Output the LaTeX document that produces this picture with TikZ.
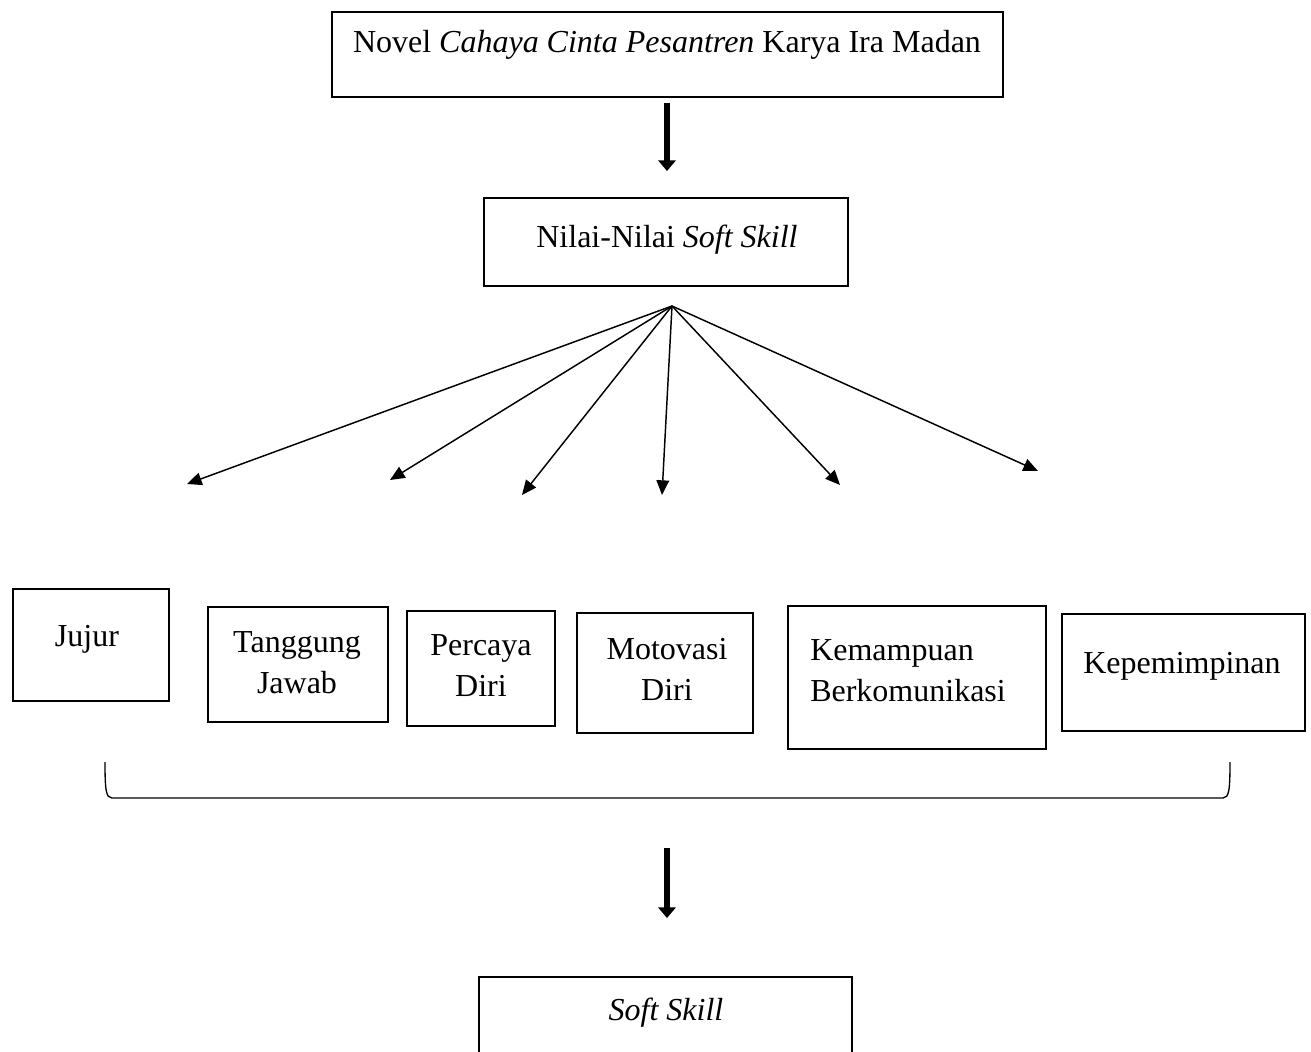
\documentclass[tikz,border=0pt]{standalone}
\usepackage{fontspec}
\setmainfont{Liberation Serif}
\usetikzlibrary{arrows.meta}
\begin{document}
\begin{tikzpicture}[x=0.75pt,y=-0.75pt,
  box/.style={draw, line width=2pt, rectangle, inner sep=0pt},
  lbl/.style={font=\fontsize{24}{30.75}\selectfont, align=center, inner sep=0pt},
  bigarrow/.style={line width=5pt, -{Triangle[length=8pt,width=13pt]}},
  fanarrow/.style={line width=1.1pt, -{Triangle[length=11pt,width=9.5pt]}},
  bracket/.style={line width=1pt}]
\useasboundingbox (0,0) rectangle (1311,1052);
% boxes
\node[box, minimum width=503.25pt, minimum height=63.75pt] (top) at (667.5,54.5) {};
\node[lbl] (toptext) at (667,45) {Novel \textit{Cahaya Cinta Pesantren} Karya Ira Madan};
\node[box, minimum width=273pt, minimum height=66pt] (nilai) at (666,242) {};
\node[lbl] (nilaitext) at (667,240) {Nilai-Nilai \textit{Soft Skill}};
\node[box, minimum width=117pt, minimum height=84pt] (jujur) at (91,645) {};
\node[lbl] (jujurtext) at (87,639) {Jujur};
\node[box, minimum width=135pt, minimum height=86.25pt] (tanggung) at (298,664.5) {};
\node[lbl] (tanggungtext) at (297,663) {Tanggung\\Jawab};
\node[box, minimum width=111pt, minimum height=86.25pt] (percaya) at (481,668.5) {};
\node[lbl] (percayatext) at (481,666) {Percaya\\Diri};
\node[box, minimum width=132pt, minimum height=90pt] (motovasi) at (665,673) {};
\node[lbl] (motovasitext) at (667,669) {Motovasi\\Diri};
\node[box, minimum width=193.5pt, minimum height=107.25pt] (kemampuan) at (917,677.5) {};
\node[lbl, align=left, anchor=west] (kemampuantext) at (810,671) {Kemampuan\\Berkomunikasi};
\node[box, minimum width=182.25pt, minimum height=87.75pt] (kepemimpinan) at (1183.5,672.5) {};
\node[lbl] (kepemimpinantext) at (1182,666) {Kepemimpinan};
\node[box, minimum width=279.75pt, minimum height=77.25pt] (soft) at (665.5,1028.5) {};
\node[lbl] (softtext) at (666,1013) {\textit{Soft Skill}};
% thick arrows
\coordinate (a1s) at (667,103);
\coordinate (a1e) at (667,171);
\draw[bigarrow] (a1s) -- (a1e);
\coordinate (a2s) at (667,848);
\coordinate (a2e) at (667,918);
\draw[bigarrow] (a2s) -- (a2e);
% fan
\coordinate (fan) at (672,306);
\coordinate (t1) at (187,484);
\coordinate (t2) at (390,480);
\coordinate (t3) at (522,495);
\coordinate (t4) at (662,495);
\coordinate (t5) at (840,485);
\coordinate (t6) at (1038,471);
\foreach \t in {t1,t2,t3,t4,t5,t6} \draw[fanarrow] (fan) -- (\t);
% bracket
\coordinate (bl) at (105,762);
\coordinate (br) at (1230,762);
\draw[bracket] (bl) .. controls (105,790) and (106,798) .. (112,798) -- (1223,798) .. controls (1229,798) and (1230,790) .. (br);
\end{tikzpicture}
\end{document}
